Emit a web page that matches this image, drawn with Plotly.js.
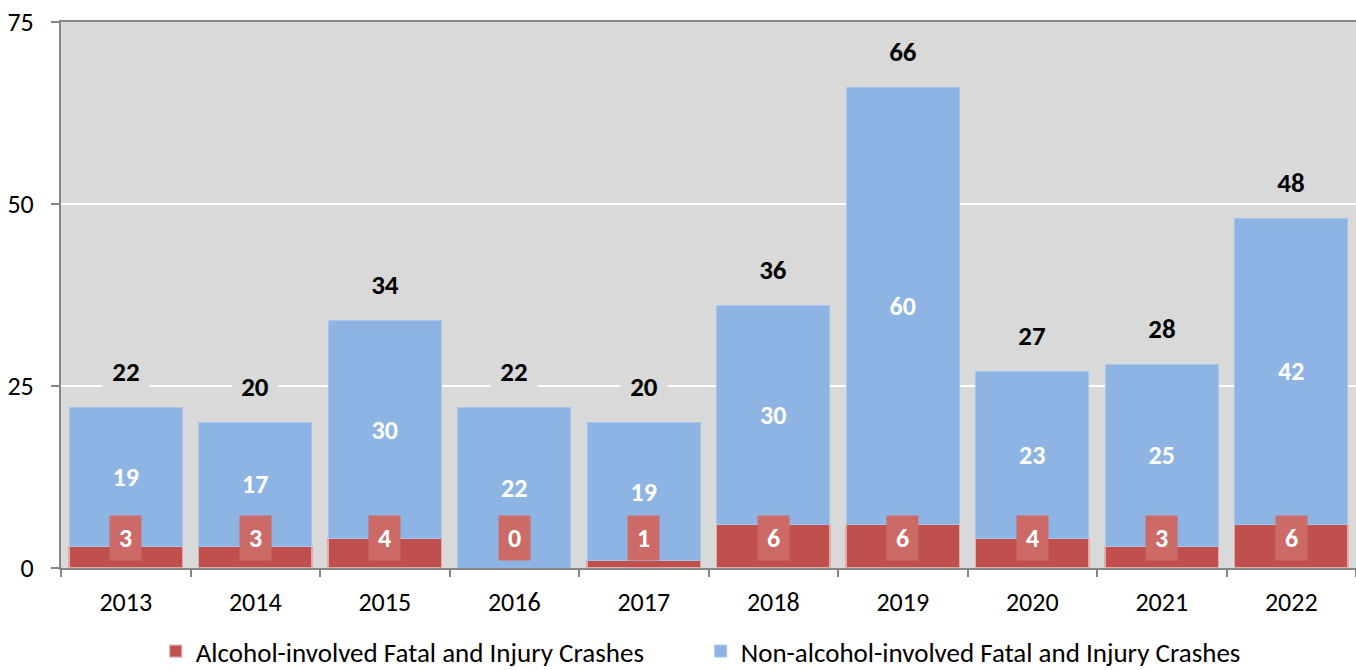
<!DOCTYPE html>
<html>
<head>
<meta charset="utf-8">
<script src="https://cdn.plot.ly/plotly-3.0.1.min.js"></script>
<style>html,body{margin:0;padding:0;background:#fff;}#chart{width:1356px;height:670px;}</style>
</head>
<body>
<div id="chart"></div>
<script>
const years = ['2013','2014','2015','2016','2017','2018','2019','2020','2021','2022'];
const alcohol = [3,3,4,0,1,6,6,4,3,6];
const nonAlcohol = [19,17,30,22,19,30,60,23,25,42];
const totals = [22,20,34,22,20,36,66,27,28,48];
const yTicks = [0,25,50,75];
const seriesNames = ['Alcohol-involved Fatal and Injury Crashes','Non-alcohol-involved Fatal and Injury Crashes'];

const FONT = "Carlito, 'Open Sans', sans-serif";

const traces = [
  {
    type: 'bar', x: years, y: alcohol, name: seriesNames[0],
    marker: {color: '#c0504d', line: {color: '#e3aaa8', width: 1.2}},
    hoverinfo: 'none'
  },
  {
    type: 'bar', x: years, y: nonAlcohol, name: seriesNames[1],
    marker: {color: '#8eb4e3', line: {color: '#a8c5ea', width: 1}},
    text: nonAlcohol.map(String), textposition: 'inside', insidetextanchor: 'middle',
    constraintext: 'none', textangle: 0,
    textfont: {family: FONT, size: 26, color: '#ffffff', weight: 'bold'},
    hoverinfo: 'none'
  }
];

const annotations = [];
years.forEach((yr, i) => {
  annotations.push({
    x: i, y: totals[i], xref: 'x', yref: 'y', yshift: 36,
    text: '<b>' + totals[i] + '</b>', showarrow: false,
    font: {family: FONT, size: 27, color: '#000000'},
    bgcolor: '#d9d9d9', borderpad: 3, width: 40
  });
  annotations.push({
    x: i, y: 0, xref: 'x', yref: 'y', yshift: 30,
    text: '<b>' + alcohol[i] + '</b>', showarrow: false,
    font: {family: FONT, size: 26, color: '#ffffff'},
    bgcolor: '#cc6a68', borderpad: 0, width: 31, height: 44, valign: 'middle'
  });
});

const layout = {
  width: 1356, height: 670,
  margin: {l: 61, r: 0, t: 22, b: 102, autoexpand: false},
  paper_bgcolor: '#ffffff', plot_bgcolor: '#d9d9d9',
  barmode: 'stack', bargap: 0.125,
  font: {family: FONT, size: 26, color: '#000000'},
  showlegend: true,
  legend: {orientation: 'h', x: 0.494, xanchor: 'center', y: -0.153, yanchor: 'middle',
           font: {family: FONT, size: 27, color: '#000000'}, traceorder: 'normal',
           entrywidth: 500, bgcolor: 'rgba(0,0,0,0)'},
  xaxis: {type: 'category', range: [-0.5, 9.5], autorange: false, automargin: false,
          showline: true, mirror: true, linecolor: '#868686', linewidth: 2,
          ticks: 'outside', tickson: 'boundaries', ticklen: 7, tickcolor: '#868686', tickwidth: 2,
          ticklabelstandoff: 10, tickangle: 0, tickfont: {family: FONT, size: 26, color: '#000000'},
          showgrid: false, fixedrange: true},
  yaxis: {range: [0, 75], autorange: false, automargin: false, tickvals: yTicks, ticktext: yTicks.map(String),
          showline: true, linecolor: '#868686', linewidth: 2,
          ticks: 'outside', ticklen: 8, tickcolor: '#868686', tickwidth: 2,
          ticklabelstandoff: 12, tickfont: {family: FONT, size: 26, color: '#000000'},
          showgrid: true, gridcolor: '#ffffff', gridwidth: 2, zeroline: false, fixedrange: true},
  annotations: annotations
};

Plotly.newPlot('chart', traces, layout, {displayModeBar: false, staticPlot: true});
</script>
</body>
</html>
